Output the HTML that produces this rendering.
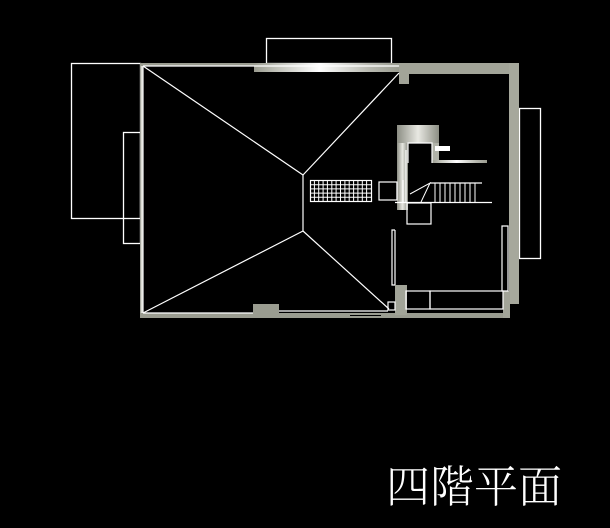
<!DOCTYPE html>
<html><head><meta charset="utf-8"><style>
html,body{margin:0;padding:0;background:#000;width:610px;height:528px;overflow:hidden}
svg{display:block}
</style></head><body>
<svg width="610" height="528" viewBox="0 0 610 528" xmlns="http://www.w3.org/2000/svg">
<defs>
<linearGradient id="gv" x1="0" x2="1" y1="0" y2="0">
<stop offset="0" stop-color="#8c8e84"/><stop offset="0.5" stop-color="#e8e8e2"/><stop offset="1" stop-color="#8c8e84"/></linearGradient>
<linearGradient id="gh" x1="0" x2="1" y1="0" y2="0">
<stop offset="0" stop-color="#9a9c90"/><stop offset="0.15" stop-color="#c0c1b8"/><stop offset="0.45" stop-color="#ffffff"/><stop offset="0.8" stop-color="#b8b9b0"/><stop offset="1" stop-color="#9a9c90"/></linearGradient>
</defs>
<g fill="none" stroke="#fff" stroke-width="1.3">
<rect x="71.5" y="63.5" width="69" height="155"/>
<rect x="123.5" y="132.5" width="17" height="111"/>
<rect x="266.5" y="38.5" width="125" height="25"/>
<rect x="519.5" y="108.5" width="21" height="150"/>
</g>
<!-- walls -->
<rect x="140" y="63" width="3.5" height="255" fill="url(#gv)"/>
<rect x="140" y="63" width="379" height="3" fill="#9a9c90"/>
<rect x="254" y="63" width="145" height="9" fill="url(#gh)"/>
<rect x="399" y="63" width="120" height="11" fill="#a2a498"/>
<rect x="399" y="73" width="10" height="11" fill="#a2a498"/>
<rect x="509" y="63" width="10" height="241" fill="#a6a89c"/>
<rect x="140" y="313" width="370" height="5" fill="#9a9c90"/>
<rect x="253" y="304" width="26" height="10" fill="#9a9c90"/>
<rect x="395" y="285" width="12" height="30" fill="#a2a498"/>
<rect x="503" y="291" width="7" height="27" fill="#a2a498"/>
<line x1="350" y1="315.5" x2="381" y2="315.5" stroke="#000" stroke-width="1"/>
<!-- interior gray -->
<rect x="397" y="125" width="11" height="85" fill="url(#gv)"/>
<rect x="397" y="125" width="42" height="18" fill="url(#gv)"/>
<rect x="432" y="143" width="7" height="20" fill="#b0b2a8"/>
<rect x="432" y="160" width="55" height="3" fill="url(#gh)"/>
<rect x="435" y="146" width="15" height="5" fill="#fff"/>
<g fill="none" stroke="#fff" stroke-width="1.2">
<line x1="143" y1="66" x2="399" y2="66"/>
<line x1="143" y1="66" x2="143" y2="313"/>
<line x1="143" y1="313" x2="253" y2="313"/>
<line x1="279" y1="311" x2="388" y2="311"/>
<line x1="143" y1="66" x2="303" y2="175"/>
<line x1="399" y1="73" x2="303" y2="175"/>
<line x1="303" y1="175" x2="303" y2="231"/>
<line x1="303" y1="231" x2="143" y2="313"/>
<line x1="303" y1="231" x2="389" y2="309"/>
<rect x="388" y="302" width="7" height="8"/>
<!-- grid -->
<rect x="310.5" y="180.5" width="61" height="21"/>
<path d="M310 184.7H371M310 188.9H371M310 193.1H371M310 197.3H371 M314.4 180V201M318.7 180V201M323.1 180V201M327.4 180V201M331.8 180V201M336.1 180V201M340.5 180V201M344.9 180V201M349.2 180V201M353.6 180V201M357.9 180V201M362.3 180V201M366.6 180V201" stroke-width="1"/>
<rect x="379" y="182" width="18" height="18"/>
<line x1="397" y1="182" x2="397" y2="200"/>
<line x1="403" y1="180" x2="403" y2="203"/>
<line x1="406" y1="150" x2="406" y2="203"/>
<path d="M408 163V143H432V163"/>
<rect x="407" y="203" width="24" height="21"/>
<line x1="430" y1="183" x2="482" y2="183"/>
<line x1="395" y1="202.5" x2="492" y2="202.5"/>
<path d="M435 183V202M440 183V202M445 183V202M450 183V202M455 183V202M460 183V202M465 183V202M470 183V202M475 183V202" stroke-width="1"/>
<path d="M410 194L430 183L421 202" stroke-width="1"/>
<path d="M395 230H392V285H395" />
<line x1="395" y1="230" x2="395" y2="285"/>
<path d="M502 226H508V291H502Z"/>
<rect x="406" y="291" width="24" height="18"/>
<rect x="430" y="291" width="73" height="18"/>
</g>
<text x="386" y="502" fill="#fff" font-family="'Liberation Serif','Noto Serif CJK SC','Noto Sans CJK TC',serif" font-size="44" font-weight="300" textLength="176" lengthAdjust="spacingAndGlyphs">四階平面</text>
</svg>
</body></html>
